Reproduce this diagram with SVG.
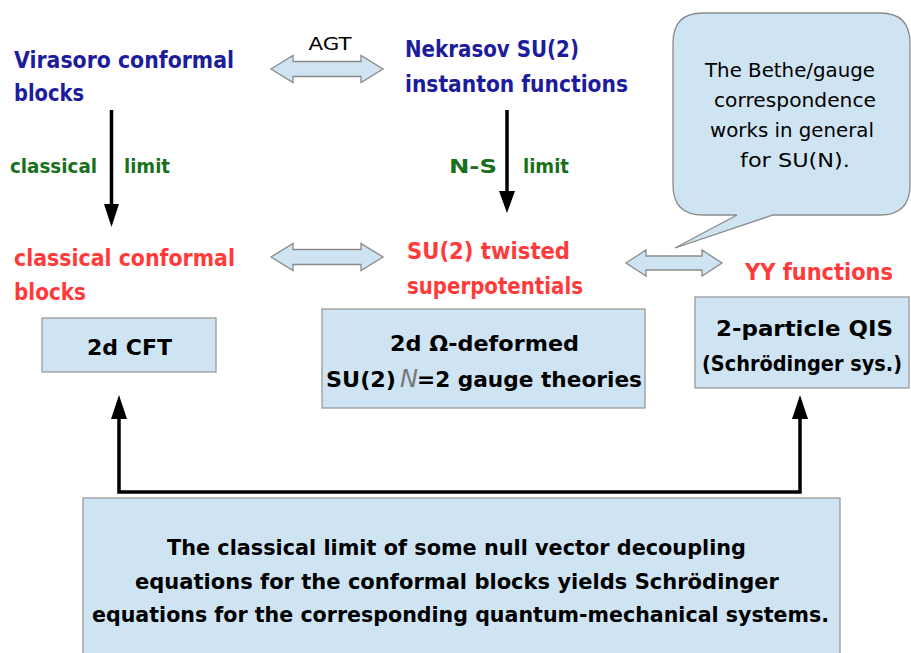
<svg xmlns="http://www.w3.org/2000/svg" width="911" height="653" viewBox="0 0 911 653">
  <defs>
    <style>
      text { font-family: "DejaVu Sans", "Liberation Sans", sans-serif; }
      .navy { fill: #1c1c9c; font-size: 23px; font-weight: bold; }
      .red { fill: #ff3a3a; font-size: 23px; font-weight: bold; }
      .green { fill: #17701a; font-size: 20px; font-weight: bold; }
      .box { fill: #cfe4f3; stroke: #9a9a9a; stroke-width: 1.3; }
      .dbl { fill: #cfe4f3; stroke: #8a8a8a; stroke-width: 1.3; }
      .line { stroke: #000; stroke-width: 3.5; fill: none; }
      .head { fill: #000; }
      .blk { fill: #000; font-size: 22px; font-weight: bold; }
      .note { fill: #000; font-size: 19px; }
    </style>
  </defs>

  <!-- two-way equivalence arrows and limit arrows -->
  <g id="connectors">
    <path class="dbl" d="M271,69 L293,55.5 L293,61.5 L361,61.5 L361,55.5 L383,69 L361,82.5 L361,76.5 L293,76.5 L293,82.5 Z"/>
    <text x="330" y="50" text-anchor="middle" font-size="17" fill="#000" textLength="43" lengthAdjust="spacingAndGlyphs">AGT</text>

    <path class="dbl" d="M271,257 L293,243.5 L293,249.5 L361,249.5 L361,243.5 L383,257 L361,270.5 L361,264.5 L293,264.5 L293,270.5 Z"/>
    <path class="dbl" d="M626,263 L646,250 L646,256 L702,256 L702,250 L722,263 L702,276 L702,270 L646,270 L646,276 Z"/>

    <line class="line" x1="111.5" y1="110" x2="111.5" y2="206"/>
    <polygon class="head" points="104,204 119,204 111.5,227"/>
    <text class="green" x="10" y="173" textLength="87" lengthAdjust="spacingAndGlyphs">classical</text>
    <text class="green" x="124" y="173" textLength="46" lengthAdjust="spacingAndGlyphs">limit</text>

    <line class="line" x1="507" y1="110" x2="507" y2="193"/>
    <polygon class="head" points="499,191 515,191 507,213"/>
    <text class="green" x="449" y="173" textLength="48" lengthAdjust="spacingAndGlyphs">N-S</text>
    <text class="green" x="523" y="173" textLength="46" lengthAdjust="spacingAndGlyphs">limit</text>

    <polyline class="line" stroke-width="4" points="119,418 119,492 800,492 800,418"/>
    <polygon class="head" points="111,419 127,419 119,395"/>
    <polygon class="head" points="792,419 808,419 800,395"/>
  </g>

  <g id="virasoro">
    <text class="navy" x="14" y="68" textLength="220" lengthAdjust="spacingAndGlyphs">Virasoro conformal</text>
    <text class="navy" x="14" y="101" textLength="70" lengthAdjust="spacingAndGlyphs">blocks</text>
  </g>

  <g id="nekrasov">
    <text class="navy" x="405" y="57" textLength="174" lengthAdjust="spacingAndGlyphs">Nekrasov SU(2)</text>
    <text class="navy" x="405" y="92" textLength="223" lengthAdjust="spacingAndGlyphs">instanton functions</text>
  </g>

  <g id="classical-blocks">
    <text class="red" x="14" y="266" textLength="221" lengthAdjust="spacingAndGlyphs">classical conformal</text>
    <text class="red" x="14" y="300" textLength="72" lengthAdjust="spacingAndGlyphs">blocks</text>
  </g>

  <g id="twisted">
    <text class="red" x="407" y="259" textLength="163" lengthAdjust="spacingAndGlyphs">SU(2) twisted</text>
    <text class="red" x="407" y="294" textLength="176" lengthAdjust="spacingAndGlyphs">superpotentials</text>
  </g>

  <g id="yy">
    <text class="red" x="745" y="280" textLength="148" lengthAdjust="spacingAndGlyphs">YY functions</text>
  </g>

  <g id="bubble">
    <path fill="#cfe4f3" stroke="#8a8a8a" stroke-width="1.3" d="M703,13 H880 Q910,13 910,43 V185 Q910,215 880,215 H773 L675,248 L737,215 H703 Q673,215 673,185 V43 Q673,13 703,13 Z"/>
    <text class="note" x="790" y="77" text-anchor="middle" textLength="170" lengthAdjust="spacingAndGlyphs">The Bethe/gauge</text>
    <text class="note" x="795" y="107" text-anchor="middle" textLength="162" lengthAdjust="spacingAndGlyphs">correspondence</text>
    <text class="note" x="792" y="137" text-anchor="middle" textLength="164" lengthAdjust="spacingAndGlyphs">works in general</text>
    <text class="note" x="795" y="167" text-anchor="middle" textLength="110" lengthAdjust="spacingAndGlyphs">for SU(N).</text>
  </g>

  <g id="cft">
    <rect class="box" x="42" y="318" width="174" height="54"/>
    <text class="blk" x="129.5" y="355" text-anchor="middle" textLength="85" lengthAdjust="spacingAndGlyphs">2d CFT</text>
  </g>

  <g id="gauge">
    <rect class="box" x="322" y="309" width="323" height="99"/>
    <text class="blk" x="484.5" y="351" text-anchor="middle" textLength="189" lengthAdjust="spacingAndGlyphs">2d Ω-deformed</text>
    <text class="blk" x="326" y="387" textLength="70" lengthAdjust="spacingAndGlyphs">SU(2)</text>
    <text x="400" y="387" font-family="Liberation Serif, serif" font-style="italic" font-size="24" fill="#777">N</text>
    <text class="blk" x="417" y="387" textLength="225" lengthAdjust="spacingAndGlyphs">=2 gauge theories</text>
  </g>

  <g id="qis">
    <rect class="box" x="695" y="297" width="214" height="91"/>
    <text class="blk" x="804.5" y="336" text-anchor="middle" textLength="177" lengthAdjust="spacingAndGlyphs">2-particle QIS</text>
    <text class="blk" x="802" y="371" text-anchor="middle" font-size="19" textLength="200" lengthAdjust="spacingAndGlyphs">(Schrödinger sys.)</text>
  </g>

  <g id="decoupling">
    <rect class="box" x="83" y="498" width="757" height="170"/>
    <text class="blk" x="456.5" y="555" text-anchor="middle" font-size="21" textLength="579" lengthAdjust="spacingAndGlyphs">The classical limit of some null vector decoupling</text>
    <text class="blk" x="457" y="589" text-anchor="middle" font-size="21" textLength="644" lengthAdjust="spacingAndGlyphs">equations for the conformal blocks yields Schrödinger</text>
    <text class="blk" x="460.5" y="622" text-anchor="middle" font-size="21" textLength="737" lengthAdjust="spacingAndGlyphs">equations for the corresponding quantum-mechanical systems.</text>
  </g>
</svg>
